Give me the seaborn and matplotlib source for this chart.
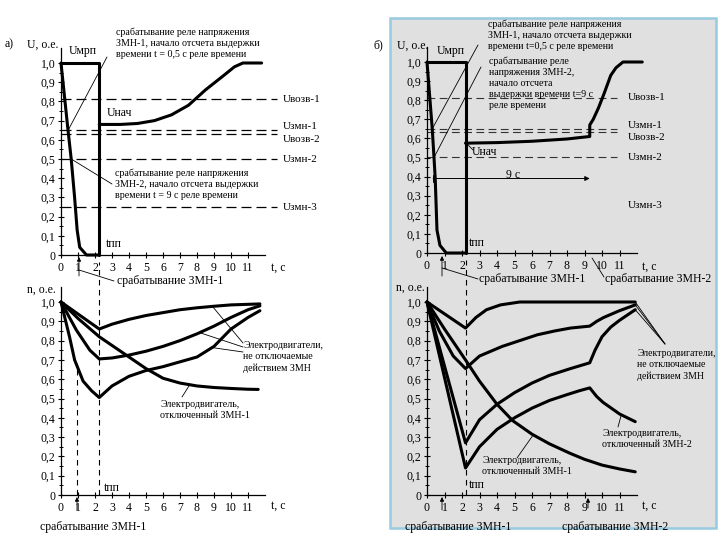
import matplotlib
matplotlib.use('Agg')
import matplotlib.pyplot as plt
from matplotlib.lines import Line2D
from matplotlib.patches import Rectangle, FancyArrowPatch
import seaborn as sns

# ---------------- данные ----------------
# а) напряжение
ua_fall_t = [0, 0.4, 0.6, 0.8, 0.95, 1.1, 1.5, 2.25]
ua_fall_u = [1.0, 0.66, 0.5, 0.3, 0.13, 0.04, 0.0, 0.0]
ua_mrp_t = [0, 2.25, 2.25]
ua_mrp_u = [1.0, 1.0, 0.0]
ua_rec_t = [2.25, 3.5, 4.5, 5.5, 6.5, 7.5, 8.5, 9.5, 10.2, 10.7, 11.8]
ua_rec_u = [0.68, 0.68, 0.685, 0.70, 0.73, 0.78, 0.86, 0.93, 0.98, 1.0, 1.0]

# б) напряжение
ub_fall_t = [0, 0.3, 0.4, 0.47, 0.57, 0.74, 1.1, 2.2]
ub_fall_u = [1.0, 0.65, 0.5, 0.39, 0.12, 0.04, 0.0, 0.0]
ub_mrp_t = [0, 2.2, 2.2]
ub_mrp_u = [1.0, 1.0, 0.0]
ub_rec_t = [2.2, 4, 6, 8, 9.3, 9.3, 9.5, 9.8, 10.1, 10.5, 10.8, 11.2, 12.3]
ub_rec_u = [0.575, 0.578, 0.585, 0.597, 0.61, 0.67, 0.70, 0.76, 0.83, 0.93, 0.97, 1.0, 1.0]

# уставки
levels_a = [0.81, 0.65, 0.63, 0.5, 0.25]
levels_b = [0.81, 0.65, 0.635, 0.505]
level_names = ['Uвозв-1', 'Uзмн-1', 'Uвозв-2', 'Uзмн-2', 'Uзмн-3']

# а) частота вращения
na1_t = [0, 2.25, 3, 4, 5, 6, 7, 8, 9, 10, 11.7]
na1_n = [1.0, 0.86, 0.885, 0.91, 0.93, 0.945, 0.96, 0.97, 0.978, 0.985, 0.99]
na2_t = [0, 0.9, 1.7, 2.25, 3, 4, 5, 6, 7, 8, 9, 10, 11, 11.7]
na2_n = [1.0, 0.855, 0.75, 0.705, 0.71, 0.725, 0.745, 0.77, 0.80, 0.835, 0.875, 0.92, 0.96, 0.98]
na3_t = [0, 0.5, 0.8, 1.3, 1.8, 2.25, 3, 4, 5, 6, 7, 8, 9, 10, 11, 11.7]
na3_n = [1.0, 0.82, 0.70, 0.59, 0.54, 0.505, 0.565, 0.615, 0.645, 0.665, 0.69, 0.715, 0.77, 0.86, 0.92, 0.955]
na_off1_t = [0, 1, 2.25, 3, 4, 5, 6, 7, 8, 9, 10, 11, 11.6]
na_off1_n = [1.0, 0.915, 0.82, 0.775, 0.715, 0.655, 0.605, 0.58, 0.565, 0.557, 0.552, 0.548, 0.547]

# б) частота вращения
nb1_t = [0, 2.2, 2.8, 3.4, 4.2, 5.3, 11.9]
nb1_n = [1.0, 0.865, 0.92, 0.96, 0.985, 1.0, 1.0]
nb2_t = [0, 0.7, 1.5, 2.2, 3, 4.3, 5.3, 6.3, 7.3, 8.2, 9.3, 9.7, 10.1, 11, 11.9]
nb2_n = [1.0, 0.85, 0.72, 0.655, 0.72, 0.77, 0.80, 0.83, 0.85, 0.865, 0.875, 0.90, 0.92, 0.955, 0.985]
nb3_t = [0, 2.2, 3, 4, 5, 6, 7, 8.2, 9.3, 9.6, 10, 10.5, 11, 11.9]
nb3_n = [1.0, 0.27, 0.39, 0.47, 0.53, 0.58, 0.62, 0.655, 0.685, 0.75, 0.82, 0.87, 0.905, 0.96]
nb_off2_t = [0, 2.2, 3, 4, 5, 6, 7, 8, 8.7, 9.3, 9.7, 10.06, 11, 11.9]
nb_off2_n = [1.0, 0.14, 0.25, 0.34, 0.40, 0.45, 0.49, 0.52, 0.54, 0.555, 0.51, 0.48, 0.42, 0.38]
nb_off1_t = [0, 1, 2.2, 3, 4, 4.9, 6, 7, 8.2, 9, 10, 11, 11.9]
nb_off1_n = [1.0, 0.86, 0.70, 0.59, 0.47, 0.385, 0.315, 0.265, 0.215, 0.185, 0.155, 0.135, 0.12]

y_ticks = [i / 10 for i in range(11)]
y_tick_labels = ['0'] + ['0,%d' % i for i in range(1, 10)] + ['1,0']
x_ticks = list(range(12))

# ---------------- оформление ----------------
sns.set_theme(style='ticks', rc={'axes.edgecolor': 'black', 'text.color': 'black',
                                 'xtick.color': 'black', 'ytick.color': 'black'})
plt.rcParams['font.family'] = ['Liberation Serif', 'DejaVu Serif']

W, H = 720, 540
fig = plt.figure(figsize=(7.2, 5.4), dpi=100)
fig.add_artist(Rectangle((390 / W, 1 - 528 / H), 326 / W, 510 / H, transform=fig.transFigure,
                         facecolor='#e0e0e0', edgecolor='#98cbe0', lw=1.8, zorder=-5))

TS = 8.5   # подписи осей
AS = 7.2   # поясняющие надписи


def add_ax(x0, x1, y_top, y_bottom):
    ax = fig.add_axes([x0 / W, 1 - y_bottom / H, (x1 - x0) / W, (y_bottom - y_top) / H])
    ax.set_xlim(0, 12)
    ax.set_ylim(0, 1.08)
    ax.set_facecolor('none')
    for s in ['top', 'right']:
        ax.spines[s].set_visible(False)
    for s in ['left', 'bottom']:
        ax.spines[s].set_linewidth(0.9)
    ax.set_yticks(y_ticks)
    ax.set_yticklabels(y_tick_labels)
    ax.set_yticks([i / 20 for i in range(1, 21, 2)], minor=True)
    ax.set_xticks(x_ticks)
    ax.set_xticklabels([str(i) for i in x_ticks])
    ax.tick_params(axis='both', which='major', direction='inout', length=4, width=0.8, labelsize=TS)
    ax.tick_params(axis='y', which='minor', direction='inout', length=2.5, width=0.7)
    ax.tick_params(axis='y', pad=2)
    ax.tick_params(axis='x', pad=3)
    return ax


def curve(ax, t, v, lw=2.2):
    sns.lineplot(x=t, y=v, ax=ax, sort=False, estimator=None, color='black',
                 linewidth=lw, clip_on=False, solid_joinstyle='round')
    ax.set_xlabel('')
    ax.set_ylabel('')


def txt(x, y, s, size=AS, **kw):
    kw.setdefault('ha', 'left')
    kw.setdefault('va', 'center')
    fig.text(x / W, 1 - y / H, s, fontsize=size, linespacing=1.3, **kw)


def leader(ax, t, v, x, y, lw=0.6):
    ax.annotate('', xy=(t, v), xycoords='data', xytext=(x / W, 1 - y / H),
                textcoords='figure fraction', annotation_clip=False,
                arrowprops=dict(arrowstyle='-', lw=lw, color='black', shrinkA=0, shrinkB=0))


def pline(x0, y0, x1, y1, lw=0.6):
    fig.add_artist(Line2D([x0 / W, x1 / W], [1 - y0 / H, 1 - y1 / H], transform=fig.transFigure,
                          color='black', lw=lw))


def parrow(x, y0, y1):
    fig.add_artist(FancyArrowPatch((x / W, 1 - y0 / H), (x / W, 1 - y1 / H),
                                   transform=fig.transFigure, arrowstyle='-|>', mutation_scale=6,
                                   lw=0.6, color='black', shrinkA=0, shrinkB=0))


ax_ua = add_ax(61, 265, 255 - 1.08 * 192, 255)
ax_na = add_ax(61, 265, 495 - 1.08 * 193, 495)
ax_ub = add_ax(427, 637, 253 - 1.08 * 191, 253)
ax_nb = add_ax(427, 637, 495 - 1.08 * 193, 495)

# ---------------- а) U ----------------
for lv in levels_a:
    ax_ua.plot([0, 12.7], [lv, lv], color='black', lw=0.9, ls=(0, (8, 4)), clip_on=False)
curve(ax_ua, ua_mrp_t, ua_mrp_u)
curve(ax_ua, ua_fall_t, ua_fall_u)
curve(ax_ua, ua_rec_t, ua_rec_u)
for name, lv, dy in zip(level_names, levels_a, [0, -0.02, 0.03, 0, 0]):
    ax_ua.text(13.05, lv - dy, name, fontsize=AS + 0.8, va='center', ha='left', clip_on=False)

txt(5, 44, 'а)', size=TS)
txt(27, 45, 'U, о.е.', size=TS)
txt(69, 51, 'Uмрп', size=TS)
txt(107, 113, 'Uнач', size=TS)
txt(106, 244, 'tпп', size=TS)
txt(271, 268, 't, с', size=TS)
txt(116, 43.5, 'срабатывание реле напряжения\nЗМН-1, начало отсчета выдержки\nвремени t = 0,5 с реле времени')
txt(115, 184, 'срабатывание реле напряжения\nЗМН-2, начало отсчета выдержки\nвремени t = 9 с реле времени')
leader(ax_ua, 0.42, 0.65, 107, 57)
leader(ax_ua, 0.6, 0.5, 112, 184)
txt(117, 281, 'срабатывание ЗМН-1', size=TS)
parrow(79, 276, 257)
pline(79, 270, 114, 281)

# ---------------- а) n ----------------
ax_na.plot([0.95, 0.95], [0, 0.66], color='black', lw=0.8, ls=(0, (5, 4)))
ax_na.plot([2.25, 2.25], [0, 1.207], color='black', lw=0.8, ls=(0, (5, 4)), clip_on=False)
curve(ax_na, na1_t, na1_n)
curve(ax_na, na2_t, na2_n)
curve(ax_na, na3_t, na3_n)
curve(ax_na, na_off1_t, na_off1_n)

txt(27, 290, 'n, о.е.', size=TS)
txt(104, 488, 'tпп', size=TS)
txt(271, 506, 't, с', size=TS)
txt(40, 527, 'срабатывание ЗМН-1', size=TS)
parrow(77, 510, 497)
txt(243, 357, 'Электродвигатели,\nне отключаемые\nдействием ЗМН')
leader(ax_na, 8.9, 0.978, 243, 343)
leader(ax_na, 8.2, 0.84, 243, 347)
leader(ax_na, 8.8, 0.765, 243, 352)
txt(160, 410, 'Электродвигатель,\nотключенный ЗМН-1')
leader(ax_na, 7.6, 0.575, 182, 397)

# ---------------- б) U ----------------
for lv in levels_b:
    ax_ub.plot([0, 10.86], [lv, lv], color='#333333', lw=0.8, ls=(0, (7, 4)), clip_on=False)
curve(ax_ub, ub_mrp_t, ub_mrp_u)
curve(ax_ub, ub_fall_t, ub_fall_u)
curve(ax_ub, ub_rec_t, ub_rec_u)
for name, y in zip(level_names, [97, 125, 137, 157, 205]):
    txt(628, y, name, size=AS + 0.8)
ax_ub.annotate('', xy=(9.3, 0.39), xytext=(0.35, 0.39), annotation_clip=False,
               arrowprops=dict(arrowstyle='-|>', lw=0.7, color='black', mutation_scale=7,
                               shrinkA=0, shrinkB=0))
ax_ub.plot([0.35, 0.35], [0.37, 0.41], color='black', lw=0.7)
txt(513, 175, '9 с', size=TS, ha='center')

txt(373, 45, 'б)', size=TS)
txt(397, 46, 'U, о.е.', size=TS)
txt(437, 51, 'Uмрп', size=TS)
txt(472, 152, 'Uнач', size=TS)
leader(ax_ub, 2.25, 0.575, 473, 150)
txt(469, 243, 'tпп', size=TS)
txt(642, 267, 't, с', size=TS)
txt(488, 35.5, 'срабатывание реле напряжения\nЗМН-1, начало отсчета выдержки\nвремени t=0,5 с реле времени')
txt(489, 83.5, 'срабатывание реле\nнапряжения ЗМН-2,\nначало отсчета\nвыдержки времени t=9 с\nреле времени')
leader(ax_ub, 0.3, 0.65, 478, 45)
leader(ax_ub, 0.4, 0.5, 481, 67)
txt(479, 279, 'срабатывание ЗМН-1', size=TS)
txt(605, 279, 'срабатывание ЗМН-2', size=TS)
parrow(442, 276, 256)
pline(442, 268, 478, 279)
pline(592, 258, 604, 277)

# ---------------- б) n ----------------
ax_nb.plot([2.2, 2.2], [0, 1.218], color='black', lw=0.8, ls=(0, (5, 4)), clip_on=False)
curve(ax_nb, nb1_t, nb1_n)
curve(ax_nb, nb2_t, nb2_n)
curve(ax_nb, nb3_t, nb3_n)
curve(ax_nb, nb_off2_t, nb_off2_n)
curve(ax_nb, nb_off1_t, nb_off1_n)

txt(396, 288, 'n, о.е.', size=TS)
txt(469, 485, 'tпп', size=TS)
txt(642, 506, 't, с', size=TS)
txt(405, 527, 'срабатывание ЗМН-1', size=TS)
txt(562, 527, 'срабатывание ЗМН-2', size=TS)
parrow(442, 510, 497)
parrow(588, 508, 498)
txt(637, 365, 'Электродвигатели,\nне отключаемые\nдействием ЗМН', size=AS - 0.2)
for tt, nn in [(11.9, 1.0), (11.9, 0.985), (11.9, 0.96)]:
    leader(ax_nb, tt, nn, 665, 344)
txt(602, 439, 'Электродвигатель,\nотключенный ЗМН-2')
leader(ax_nb, 11.1, 0.415, 618, 427)
txt(482, 466, 'Электродвигатель,\nотключенный ЗМН-1')
leader(ax_nb, 6.06, 0.31, 517, 458)

fig.savefig('out.png', dpi=100)
